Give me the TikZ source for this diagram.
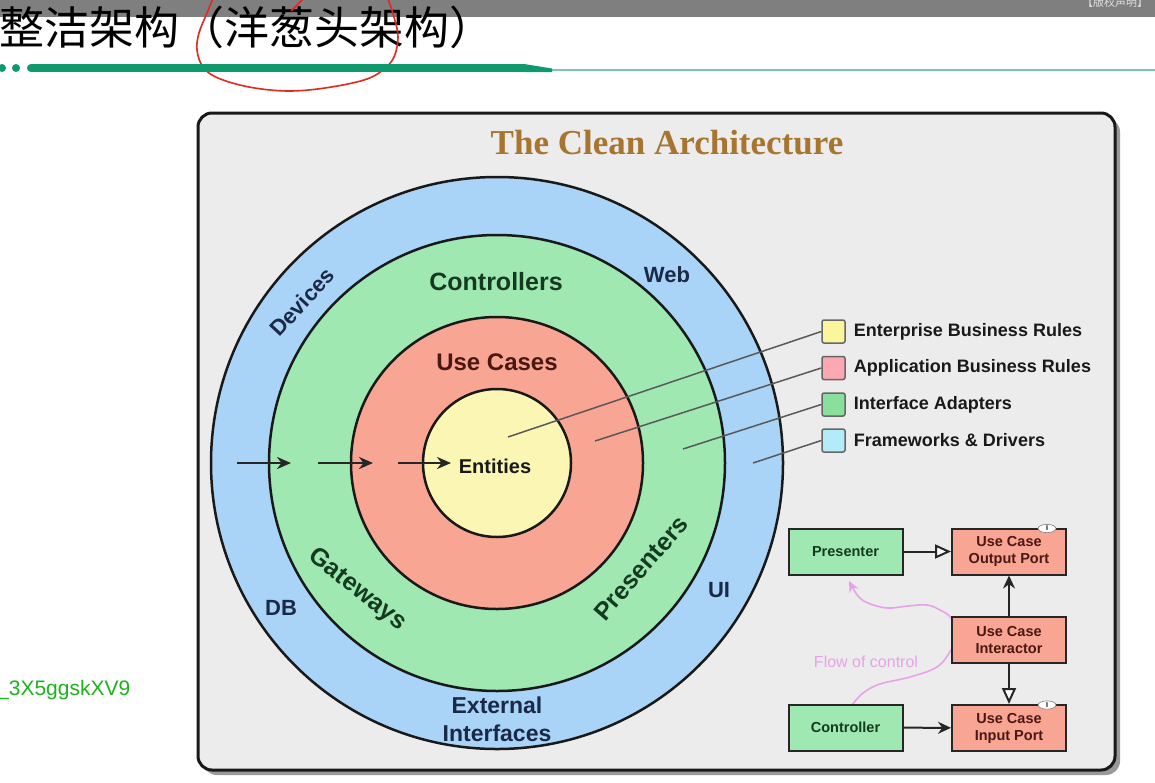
\documentclass[tikz,border=0pt]{standalone}
\usepackage{fontspec}
\setmainfont{Liberation Sans}
\newfontfamily\cjk{Noto Sans CJK SC}
\newfontfamily\serifhead{Liberation Serif}
\usepackage{tikz}
\usetikzlibrary{arrows.meta, positioning, shapes.geometric}
\definecolor{frameRing}{HTML}{A9D3F7}
\definecolor{adapterRing}{HTML}{9FE8B2}
\definecolor{useCaseRing}{HTML}{F9A593}
\definecolor{entityRing}{HTML}{FBF6B4}
\definecolor{keyYellow}{HTML}{FBF59B}
\definecolor{keyPink}{HTML}{FBA8B2}
\definecolor{keyGreen}{HTML}{88E09C}
\definecolor{keyCyan}{HTML}{B3ECF9}
\definecolor{panel}{HTML}{ECECEC}
\definecolor{headBrown}{HTML}{A7752F}
\definecolor{navyText}{HTML}{1A2947}
\definecolor{greenText}{HTML}{153A1F}
\definecolor{maroonText}{HTML}{4A1812}
\definecolor{accent}{HTML}{0E9A6C}
\definecolor{topbar}{HTML}{7F7F7F}
\definecolor{penRed}{HTML}{E02A20}
\definecolor{flowPink}{HTML}{E8A2EA}
\definecolor{markGreen}{HTML}{1FB21F}
\newcommand{\fsz}[2]{\fontsize{#1}{#2}\selectfont}

\begin{document}
\begin{tikzpicture}[
  x=1pt, y=-1pt,
  ring/.style={circle, draw=black!90, line width=2.5pt, inner sep=0pt},
  greenlabel/.style={font=\bfseries\fsz{25}{25}, text=greenText, inner sep=0pt},
  bluelabel/.style={font=\bfseries\fsz{22}{28}, text=navyText, inner sep=0pt, align=center},
  key/.style={draw=black!60, line width=1.5pt, minimum size=23pt, inner sep=0pt, rounded corners=2pt},
  keytext/.style={font=\bfseries\fsz{18}{18}, text=black!90, inner sep=0pt},
  leader/.style={draw=black!65, line width=1.5pt},
  inflow/.style={-{Stealth[length=14pt, width=12pt]}, line width=2.8pt, draw=black!85},
  umlbox/.style={draw=black!85, line width=2pt, minimum width=114pt, minimum height=46pt,
                 font=\bfseries\fsz{14.5}{17}, align=center, inner sep=0pt},
  iface/.style={ellipse, draw=black!50, fill=white, line width=0.6pt, inner sep=0.5pt,
                minimum width=18pt, minimum height=8pt, font=\bfseries\fsz{7}{7}},
  realize/.style={-{Triangle[fill=white, length=16pt, width=14pt]}, line width=2pt, draw=black!85},
  dep/.style={-{Stealth[length=13pt, width=12pt]}, line width=2pt, draw=black!85},
  ctlflow/.style={-{Stealth[length=11pt, width=10pt]}, line width=1.6pt, draw=flowPink}
]
  \useasboundingbox (0,0) rectangle (1155,782);
  \fill[white] (0,0) rectangle (1155,782);

  % slide header
  \fill[topbar] (0,0) rectangle (1155,17);
  \node[anchor=south west, inner sep=0pt, text=black!12, font=\cjk\fsz{11}{11}] (notice) at (1082,8) {【版权声明】};
  \node[anchor=west, inner sep=0pt, font=\cjk\fsz{45}{45}] (pageTitle) at (-1,27) {整洁架构（洋葱头架构）};
  \draw[penRed, line width=1.6pt] plot[smooth, tension=0.6] coordinates {(214,-4) (207,13) (199,33) (197,50) (203,67) (218,78) (249,87) (287,91) (325,88) (364,80) (383,70) (394,57) (398,37) (394,17) (387,-4)};
  \draw[penRed, line width=1.6pt] plot[smooth] coordinates {(291,11) (298,4) (306,-4)};
  \fill[accent] (2,68) circle (4) (16,68) circle (4);
  \draw[accent!55, line width=2.5pt] (540,70) -- (1155,70);
  \draw[accent, line width=8pt, line cap=round] (31,68) -- (524,68);
  \fill[accent] (524,64) -- (552,68.5) -- (552,72) -- (524,72) -- cycle;
  \node[anchor=base west, inner sep=0pt, text=markGreen, font=\fsz{21}{21}] (userTag) at (-3,695) {\_3X5ggskXV9};

  % panel
  \fill[black!40, rounded corners=14pt] (203,118) rectangle (1120,775);
  \draw[draw=black!90, fill=panel, line width=3pt, rounded corners=14pt] (198,113) rectangle (1115,770);
  \node[font=\serifhead\bfseries\fsz{35}{35}, text=headBrown] (heading) at (667,143) {The Clean Architecture};

  % onion
  \node[ring, fill=frameRing, minimum size=572pt] (fw) at (497,463) {};
  \node[ring, fill=adapterRing, minimum size=456pt] (ia) at (497,463) {};
  \node[ring, fill=useCaseRing, minimum size=292pt] (uc) at (497,463) {};
  \node[ring, fill=entityRing, minimum size=148pt] (en) at (497,463) {};

  \node[greenlabel] (lblCtrl) at (496,282) {Controllers};
  \node[greenlabel, rotate=-38] (lblGate) at (357,590) {Gateways};
  \node[greenlabel, rotate=49] (lblPres) at (641,568) {Presenters};
  \node[greenlabel, text=maroonText, font=\bfseries\fsz{24}{24}] (lblUC) at (497,362) {Use Cases};
  \node[font=\bfseries\fsz{20}{20}, text=black!90, inner sep=0pt] (lblEnt) at (495,466) {Entities};
  \node[bluelabel] (lblWeb) at (667,275) {Web};
  \node[bluelabel, rotate=47] (lblDev) at (302,302) {Devices};
  \node[bluelabel] (lblUI) at (719,590) {UI};
  \node[bluelabel] (lblDB) at (281,608) {DB};
  \node[bluelabel, font=\bfseries\fsz{23}{28}] (lblExt) at (497,719) {External\\Interfaces};

  \coordinate (in1) at (237,463); \coordinate (out1) at (291,463);
  \coordinate (in2) at (318,463); \coordinate (out2) at (373,463);
  \coordinate (in3) at (398,463); \coordinate (out3) at (451,463);
  \draw[inflow] (in1) -- (out1);
  \draw[inflow] (in2) -- (out2);
  \draw[inflow] (in3) -- (out3);

  % legend
  \node[key, fill=keyYellow] (keyE) at (833.5,331.5) {};
  \node[key, fill=keyPink] (keyA) at (833.5,368) {};
  \node[key, fill=keyGreen] (keyI) at (833.5,404.5) {};
  \node[key, fill=keyCyan] (keyF) at (833.5,440.5) {};
  \node[keytext, right=8pt of keyE] (txtE) {Enterprise Business Rules};
  \node[keytext, right=8pt of keyA] (txtA) {Application Business Rules};
  \node[keytext, right=8pt of keyI] (txtI) {Interface Adapters};
  \node[keytext, right=8pt of keyF] (txtF) {Frameworks \& Drivers};

  \coordinate (hE) at (508,437);
  \coordinate (hA) at (595,441);
  \coordinate (hI) at (683,449);
  \coordinate (hF) at (753,463);
  \draw[leader] (hE) -- (keyE.west);
  \draw[leader] (hA) -- (keyA.west);
  \draw[leader] (hI) -- (keyI.west);
  \draw[leader] (hF) -- (keyF.west);

  % flow of control runs behind the interactor
  \coordinate (fcS) at (852,705);
  \coordinate (fcE) at (849,581);
  \draw[ctlflow] plot[smooth, tension=0.6] coordinates {(fcS) (863,693) (880,684) (910,677) (937,667) (951,650) (956,636) (951,618) (940,610) (927,605) (908,606) (887,608) (868,603) (858,596) (fcE)};
  \node[text=flowPink, font=\fsz{16}{16}, inner sep=0pt] (flowTxt) at (866,662) {Flow of control};

  % ports
  \node[umlbox, fill=adapterRing, text=greenText] (pres) at (845.5,551.5) {Presenter};
  \node[umlbox, fill=useCaseRing, text=maroonText] (outp) at (1009,551.5) {Use Case\\Output Port};
  \node[umlbox, fill=useCaseRing, text=maroonText] (inter) at (1009,640) {Use Case\\Interactor};
  \node[umlbox, fill=adapterRing, text=greenText] (ctrl) at (845.5,727.5) {Controller};
  \node[umlbox, fill=useCaseRing, text=maroonText] (inp) at (1009,728) {Use Case\\Input Port};
  \node[iface] (outI) at (1047,528.5) {I};
  \node[iface] (inI) at (1047,705) {I};

  \draw[realize] (pres) -- (outp);
  \draw[dep] (inter) -- (outp);
  \draw[realize] (inter) -- (inp);
  \draw[dep] (ctrl) -- (inp);
\end{tikzpicture}
\end{document}
